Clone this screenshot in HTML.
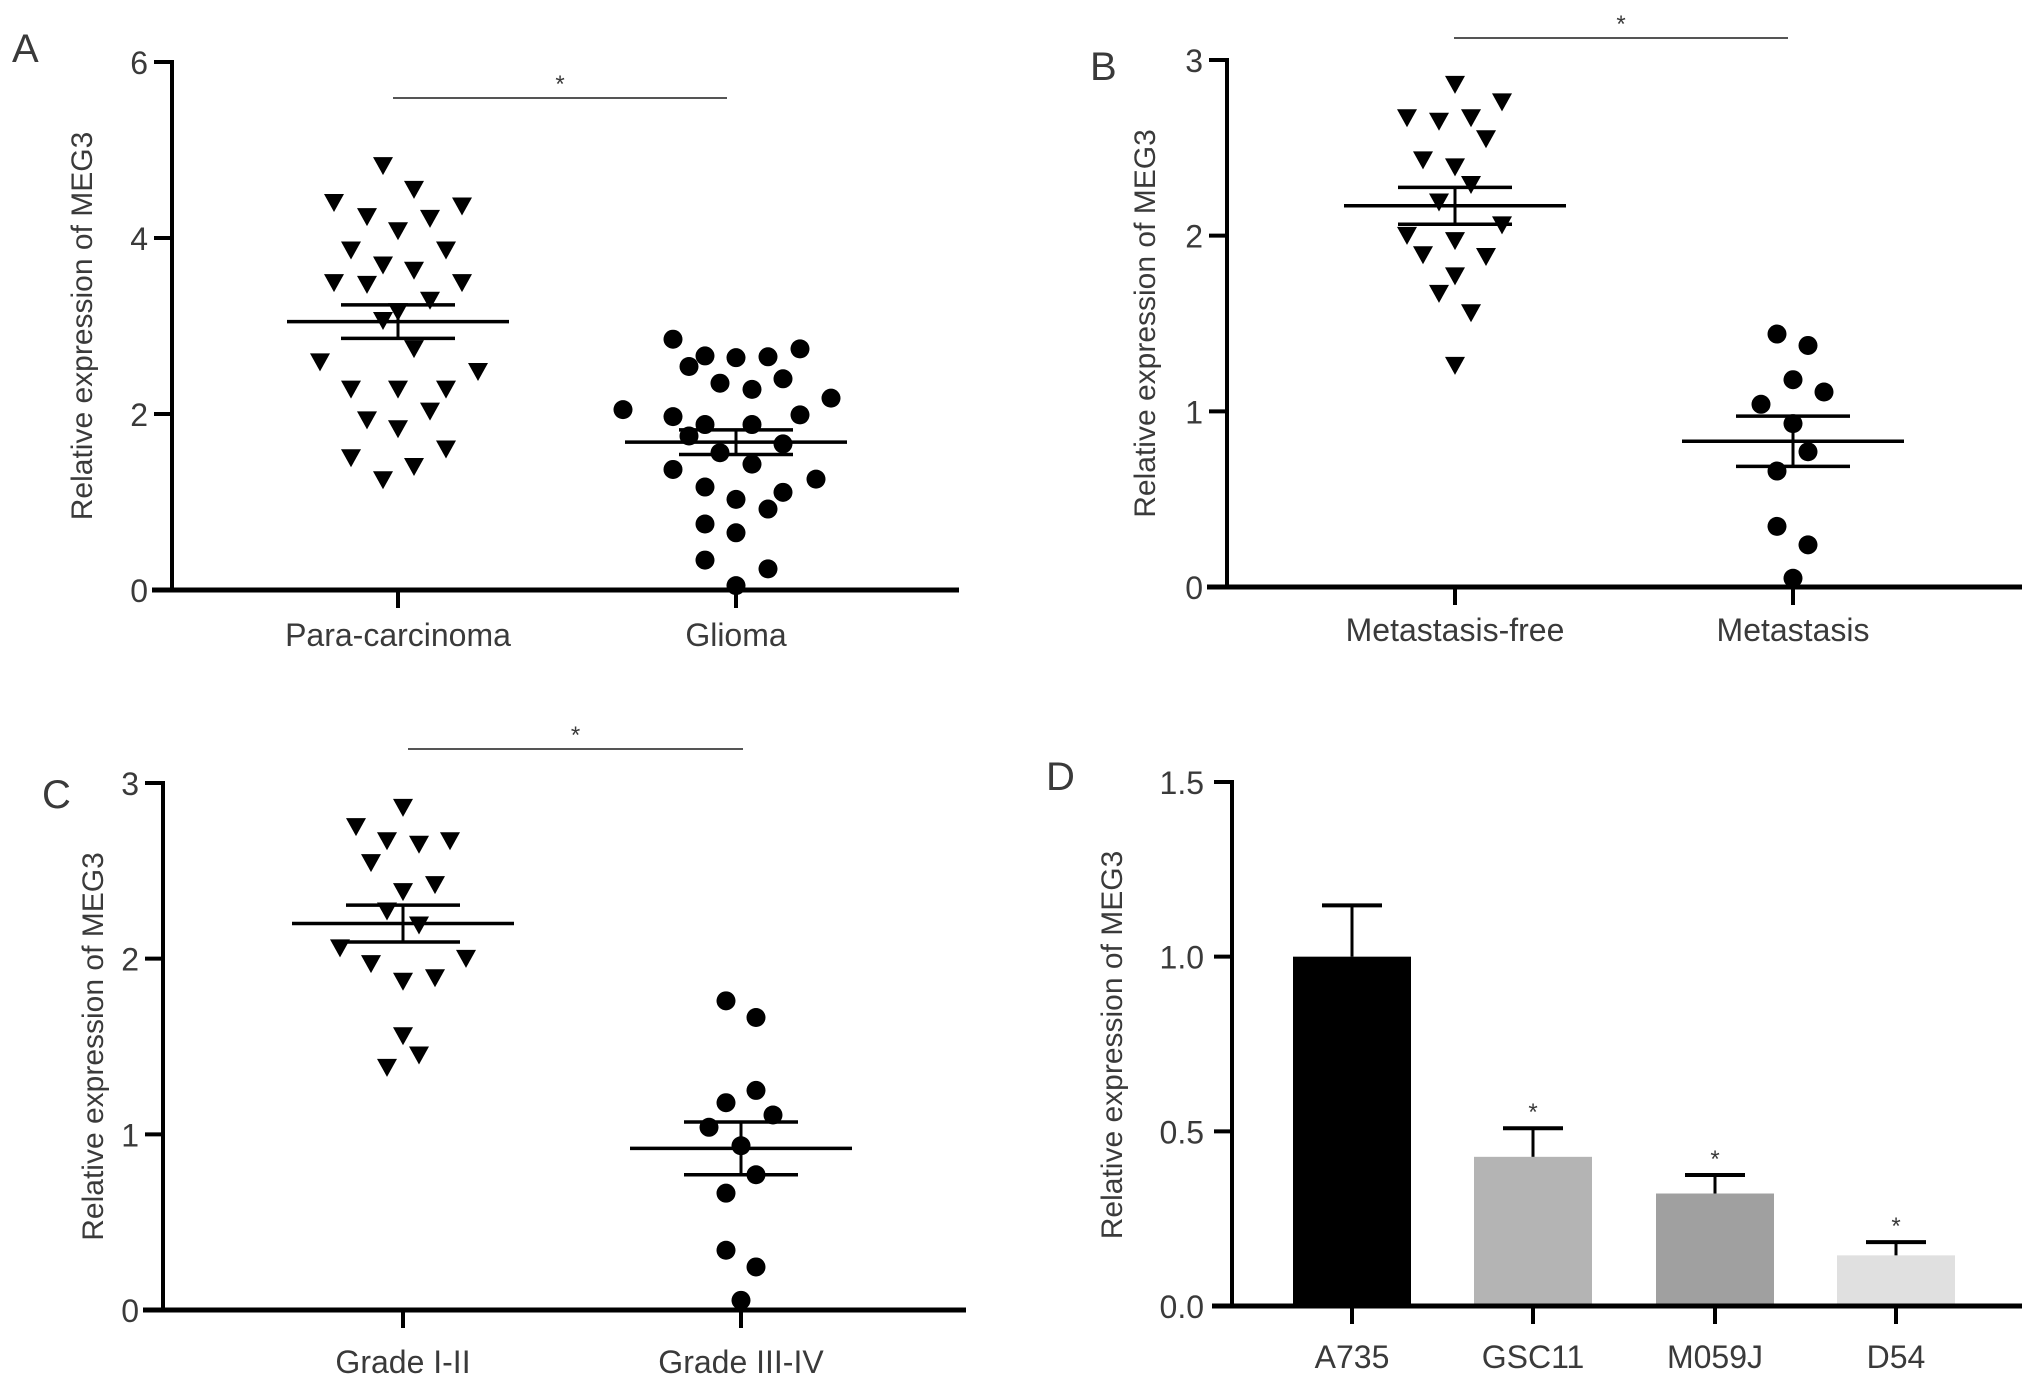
<!DOCTYPE html>
<html><head><meta charset="utf-8"><style>
html,body{margin:0;padding:0;background:#fff;}
svg{display:block;font-family:"Liberation Sans",sans-serif;}
</style></head><body>
<svg id="fig" width="2032" height="1385" viewBox="0 0 2032 1385" xmlns="http://www.w3.org/2000/svg"></svg>
<script>
// Panel A data
const aCats = ["Para-carcinoma","Glioma"];
const aTicks = [0,2,4,6];
const aParaVals = [4.84,4.57,4.42,4.38,4.26,4.24,4.10,3.88,3.88,3.71,3.65,3.51,3.49,3.51,3.31,3.08,3.18,2.76,2.61,2.50,2.30,2.30,2.30,1.95,2.05,1.85,1.52,1.62,1.42,1.27];
const aParaJit = [-15,16,-64,64,-31,32,0,-47,48,-15,16,-64,-31,64,32,-15,0,16,-78,80,-47,0,48,-31,32,0,-47,48,16,-15];
const aGliVals = [2.85,2.66,2.64,2.65,2.74,2.54,2.35,2.28,2.40,2.18,2.05,1.97,1.88,1.88,1.99,1.75,1.66,1.56,1.43,1.37,1.26,1.17,1.11,1.03,0.92,0.75,0.65,0.34,0.24,0.05];
const aGliJit = [-63,-31,0,32,64,-47,-16,16,47,95,-113,-63,-31,16,64,-47,47,-16,16,-63,80,-31,47,0,32,-31,0,-31,32,0];
const aMeans = [3.05,1.68];
const aSem = [0.19,0.14];
// Panel B data
const bCats = ["Metastasis-free","Metastasis"];
const bTicks = [0,1,2,3];
const bFreeVals = [2.87,2.77,2.68,2.66,2.68,2.56,2.44,2.40,2.30,2.20,2.07,2.01,1.98,1.90,1.89,1.78,1.68,1.57,1.27];
const bFreeJit = [0,47,-48,-16,16,31,-32,0,16,-16,47,-48,0,-32,31,0,-16,16,0];
const bMetVals = [1.44,1.375,1.18,1.11,1.04,0.93,0.77,0.66,0.345,0.24,0.05];
const bMetJit = [-16,15,0,31,-32,0,15,-16,-16,15,0];
const bMeans = [2.17,0.83];
const bSem = [0.105,0.143];
// Panel C data
const cCats = ["Grade I-II","Grade III-IV"];
const cTicks = [0,1,2,3];
const cLowVals = [2.87,2.76,2.68,2.66,2.68,2.555,2.43,2.39,2.28,2.20,2.07,1.98,2.01,1.88,1.90,1.57,1.46,1.39];
const cLowJit = [0,-47,-16,16,47,-32,32,0,-16,16,-63,-32,63,0,32,0,16,-16];
const cHighVals = [1.76,1.665,1.25,1.18,1.11,1.04,0.935,0.77,0.665,0.34,0.245,0.055];
const cHighJit = [-15,15,15,-15,32,-32,0,15,-15,-15,15,0];
const cMeans = [2.20,0.92];
const cSem = [0.105,0.15];
// Panel D data
const dCats = ["A735","GSC11","M059J","D54"];
const dTicks = [0,0.5,1.0,1.5];
const dTickLabels = ["0.0","0.5","1.0","1.5"];
const dVals = [1.0,0.427,0.322,0.145];
const dErr = [0.147,0.082,0.053,0.038];
const dStars = ["","*","*","*"];
const dColors = ["#000000","#b4b4b4","#a0a0a0","#e0e0e0"];

const NS="http://www.w3.org/2000/svg";
const svg=document.getElementById('fig');
function mk(tag,attrs,parent){const e=document.createElementNS(NS,tag);for(const k in attrs)e.setAttribute(k,attrs[k]);(parent||svg).appendChild(e);return e;}
function txt(s,attrs,parent){const e=mk('text',attrs,parent);e.textContent=s;return e;}
const TC="#3a3a3a";

function scatterPanel(o){
  const g=mk('g',{});
  
  
  const y=v=>o.y0-(v-o.ymin)/(o.ymax-o.ymin)*(o.y0-o.ytop);
  const lt=txt(o.letter,{x:o.lx,y:o.ly,'font-size':40,fill:TC},g);
  
  
  const ya=mk('line',{x1:o.ax,y1:o.ytop-2,x2:o.ax,y2:o.y0+2,stroke:'#000','stroke-width':4},g);
  
  
  const xa=mk('line',{x1:o.ax-20,y1:o.y0,x2:o.xend,y2:o.y0,stroke:'#000','stroke-width':5},g);
  
  
  o.ticks.forEach(t=>{
    mk('line',{x1:o.ax-18,y1:y(t),x2:o.ax,y2:y(t),stroke:'#000','stroke-width':4},g);
    const tl=txt(String(t),{x:o.ax-24,y:y(t)+12,'font-size':32,fill:TC,'text-anchor':'end'},g);
    
    
  });
  const yt=txt('Relative expression of MEG3',{x:0,y:0,'font-size':30,fill:TC,'text-anchor':'middle',transform:`translate(${o.titx},${(o.ytop+o.y0)/2}) rotate(-90)`},g);
  
  
  o.cats.forEach((c,i)=>{
    const cx=o.cx[i];
    mk('line',{x1:cx,y1:o.y0,x2:cx,y2:o.y0+18,stroke:'#000','stroke-width':4},g);
    const cl=txt(c,{x:cx,y:o.labY,'font-size':32,fill:TC,'text-anchor':'middle'},g);
    
    
    const vals=o.vals[i], jit=o.jit[i];
    vals.forEach((v,j)=>{
      const px=cx+jit[j], py=y(v);
      let m;
      if(o.shape[i]==='tri'){
        m=mk('polygon',{points:`${px-10},${py-7} ${px+10},${py-7} ${px},${py+11}`,fill:'#000'},g);
      } else {
        m=mk('circle',{cx:px,cy:py,r:9.5,fill:'#000'},g);
      }
      
      
    });
    const my=y(o.means[i]), hi=y(o.means[i]+o.sem[i]), lo=y(o.means[i]-o.sem[i]);
    const ml=mk('line',{x1:cx-111,y1:my,x2:cx+111,y2:my,stroke:'#000','stroke-width':3.5},g);
    
    
    mk('line',{x1:cx,y1:hi,x2:cx,y2:lo,stroke:'#000','stroke-width':3},g);
    mk('line',{x1:cx-57,y1:hi,x2:cx+57,y2:hi,stroke:'#000','stroke-width':3.5},g);
    mk('line',{x1:cx-57,y1:lo,x2:cx+57,y2:lo,stroke:'#000','stroke-width':3.5},g);
  });
  const sb=mk('line',{x1:o.sig[0],y1:o.sig[2],x2:o.sig[1],y2:o.sig[2],stroke:'#555','stroke-width':2},g);
  
  
  const st=txt('*',{x:(o.sig[0]+o.sig[1])/2,y:o.sig[2]-6,'font-size':24,fill:TC,'text-anchor':'middle'},g);
  
  
}

scatterPanel({name:'panel-a',letter:'A',lx:12,ly:62,ax:172,ytop:62,y0:590,ymin:0,ymax:6,xend:959,ticks:aTicks,titx:92,
  cats:aCats,cx:[398,736],vals:[aParaVals,aGliVals],jit:[aParaJit,aGliJit],shape:['tri','circ'],means:aMeans,sem:aSem,labY:646,sig:[393,727,98]});
scatterPanel({name:'panel-b',letter:'B',lx:1090,ly:80,ax:1227,ytop:60,y0:587,ymin:0,ymax:3,xend:2022,ticks:bTicks,titx:1155,
  cats:bCats,cx:[1455,1793],vals:[bFreeVals,bMetVals],jit:[bFreeJit,bMetJit],shape:['tri','circ'],means:bMeans,sem:bSem,labY:641,sig:[1454,1788,38]});
scatterPanel({name:'panel-c',letter:'C',lx:42,ly:808,ax:163,ytop:783,y0:1310,ymin:0,ymax:3,xend:966,ticks:cTicks,titx:103,
  cats:cCats,cx:[403,741],vals:[cLowVals,cHighVals],jit:[cLowJit,cHighJit],shape:['tri','circ'],means:cMeans,sem:cSem,labY:1373,sig:[408,743,749]});

// Panel D
(function(){
  const g=mk('g',{});
  
  
  const ax=1232, y0=1306, ytop=782, ymax=1.5;
  const y=v=>y0-v/ymax*(y0-ytop);
  const cx=[1352,1533,1715,1896], bw=118;
  const lt=txt('D',{x:1046,y:790,'font-size':40,fill:TC},g);
  
  
  dCats.forEach((c,i)=>{
    const top=y(dVals[i]);
    const b=mk('rect',{x:cx[i]-bw/2,y:top,width:bw,height:y0-top,fill:dColors[i]},g);
    
    
    const ey=y(dVals[i]+dErr[i]);
    mk('line',{x1:cx[i],y1:top,x2:cx[i],y2:ey,stroke:'#000','stroke-width':3},g);
    mk('line',{x1:cx[i]-30,y1:ey,x2:cx[i]+30,y2:ey,stroke:'#000','stroke-width':4},g);
    if(dStars[i]){const s=txt(dStars[i],{x:cx[i],y:ey-8,'font-size':24,fill:TC,'text-anchor':'middle'},g);
      
      }
    mk('line',{x1:cx[i],y1:y0,x2:cx[i],y2:y0+18,stroke:'#000','stroke-width':4},g);
    const cl=txt(c,{x:cx[i],y:1368,'font-size':32,fill:TC,'text-anchor':'middle'},g);
    
    
  });
  const ya=mk('line',{x1:ax,y1:ytop-2,x2:ax,y2:y0+2,stroke:'#000','stroke-width':4},g);
  
  
  const xa=mk('line',{x1:ax-20,y1:y0,x2:2022,y2:y0,stroke:'#000','stroke-width':5},g);
  
  
  dTicks.forEach((t,i)=>{
    mk('line',{x1:ax-18,y1:y(t),x2:ax,y2:y(t),stroke:'#000','stroke-width':4},g);
    const tl=txt(dTickLabels[i],{x:ax-28,y:y(t)+12,'font-size':32,fill:TC,'text-anchor':'end'},g);
    
    
  });
  const yt=txt('Relative expression of MEG3',{x:0,y:0,'font-size':30,fill:TC,'text-anchor':'middle',transform:`translate(1122,1045) rotate(-90)`},g);
  
  
})();
</script>
</body></html>
